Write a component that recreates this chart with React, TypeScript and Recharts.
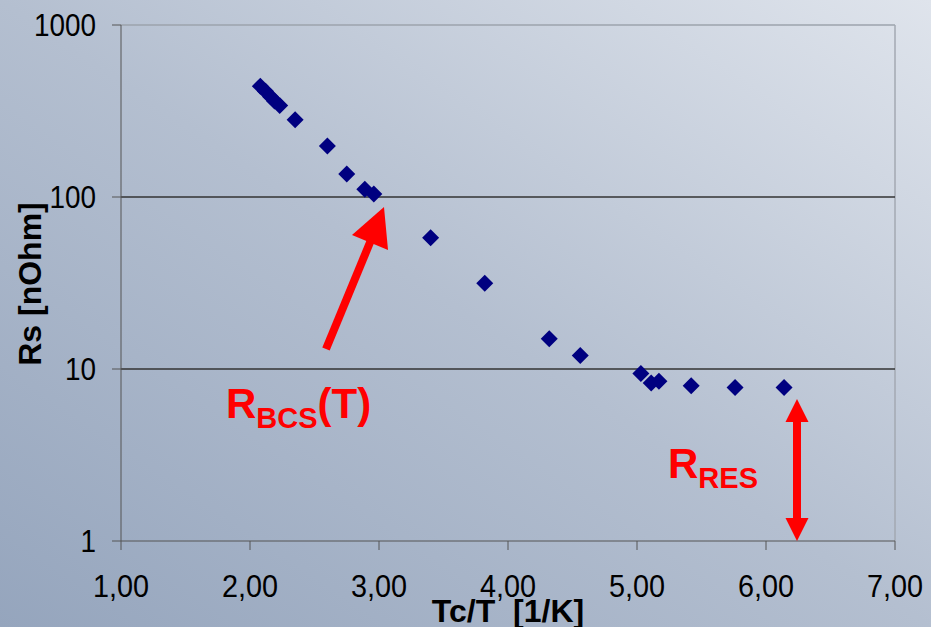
import { ScatterChart, Scatter, XAxis, YAxis, ReferenceLine } from "recharts";

// Tc/T [1/K] against surface resistance Rs [nOhm]
const tcOverT = [2.08, 2.12, 2.16, 2.19, 2.23, 2.35, 2.6, 2.75, 2.89, 2.96, 3.4, 3.82, 4.32, 4.56, 5.03, 5.11, 5.17, 5.42, 5.76, 6.14];
const rsValues = [441, 412, 383, 362, 340, 281, 198, 136, 111, 104, 58, 31.5, 15, 12, 9.4, 8.3, 8.5, 8.0, 7.8, 7.8];

const xTicks = [1, 2, 3, 4, 5, 6, 7];
const yTicks = [1, 10, 100, 1000];
const darkGrid = [10, 100];

const data = tcOverT.map((x, i) => ({ x, rs: rsValues[i] }));

const FONT = "'Liberation Sans', Arial, sans-serif";
const RED = "#ff0000";

const Diamond = (props: any) => {
  const { cx, cy } = props;
  const r = 8.5;
  return <path d={`M${cx},${cy - r}L${cx + r},${cy}L${cx},${cy + r}L${cx - r},${cy}Z`} fill="#000080" />;
};

// labels in the original are a bit narrow, so squeeze them horizontally
const XTick = ({ x, y, payload }: any) => (
  <text
    transform={`translate(${x},${y + 45}) scale(0.9,1)`}
    textAnchor="middle"
    fontSize={32}
    fontFamily={FONT}
    fill="#000"
  >
    {payload.value.toFixed(2).replace(".", ",")}
  </text>
);

const YTick = ({ x, y, payload }: any) => (
  <text
    transform={`translate(${x - 14},${y + 11}) scale(0.9,1)`}
    textAnchor="end"
    fontSize={31}
    fontFamily={FONT}
    fill="#000"
  >
    {payload.value}
  </text>
);

const App = () => {
  return (
    <div
      style={{
        position: "absolute",
        left: 0,
        top: 0,
        width: 931,
        height: 627,
        background: "linear-gradient(to top right, #95a5bd 0%, #b4bfd0 50%, #dfe4ec 100%)",
        overflow: "hidden",
      }}
    >
      <ScatterChart width={931} height={627} margin={{ top: 25, right: 36, left: 0, bottom: 0 }}>
        <XAxis
          type="number"
          dataKey="x"
          domain={[1, 7]}
          ticks={xTicks}
          height={86}
          tickSize={9}
          tick={<XTick />}
          stroke="#555"
          tickLine={{ stroke: "#555" }}
          allowDataOverflow
        />
        <YAxis
          type="number"
          dataKey="rs"
          scale="log"
          domain={[1, 1000]}
          ticks={yTicks}
          width={121}
          tickSize={9}
          tick={<YTick />}
          stroke="#555"
          tickLine={{ stroke: "#555" }}
          allowDataOverflow
        />
        <ReferenceLine y={1000} stroke="#9ca3ad" strokeWidth={1.5} />
        <ReferenceLine x={7} stroke="#a3a9b2" strokeWidth={1.5} />
        {darkGrid.map((v) => (
          <ReferenceLine key={v} y={v} stroke="#333" strokeWidth={1.5} />
        ))}
        <Scatter data={data} shape={<Diamond />} isAnimationActive={false} />
      </ScatterChart>

      <svg
        width={931}
        height={627}
        style={{ position: "absolute", left: 0, top: 0, pointerEvents: "none" }}
      >
        {/* axis titles */}
        <text
          x={508}
          y={622}
          textAnchor="middle"
          fontSize={32}
          fontWeight="bold"
          fontFamily={FONT}
          fill="#000"
          style={{ whiteSpace: "pre" }}
        >
          {"Tc/T  [1/K]"}
        </text>
        <text
          transform="translate(41,284) rotate(-90)"
          textAnchor="middle"
          fontSize={32}
          fontWeight="bold"
          fontFamily={FONT}
          fill="#000"
        >
          Rs [nOhm]
        </text>

        {/* R_BCS arrow */}
        <line x1={326} y1={349} x2={371} y2={240} stroke={RED} strokeWidth={8} />
        <polygon points="384,207 352,235 388,250" fill={RED} />
        <text x={226} y={418} fontSize={42} fontWeight="bold" fontFamily={FONT} fill={RED}>
          R
          <tspan fontSize={29} dy={10}>BCS</tspan>
          <tspan dy={-10}>(T)</tspan>
        </text>

        {/* R_RES double arrow */}
        <line x1={797} y1={420} x2={797} y2={520} stroke={RED} strokeWidth={8} />
        <polygon points="797,399 785.5,422 808.5,422" fill={RED} />
        <polygon points="797,541 785.5,518 808.5,518" fill={RED} />
        <text x={668} y={478} fontSize={42} fontWeight="bold" fontFamily={FONT} fill={RED}>
          R
          <tspan fontSize={29} dy={10}>RES</tspan>
        </text>
      </svg>
    </div>
  );
};

export default App;
